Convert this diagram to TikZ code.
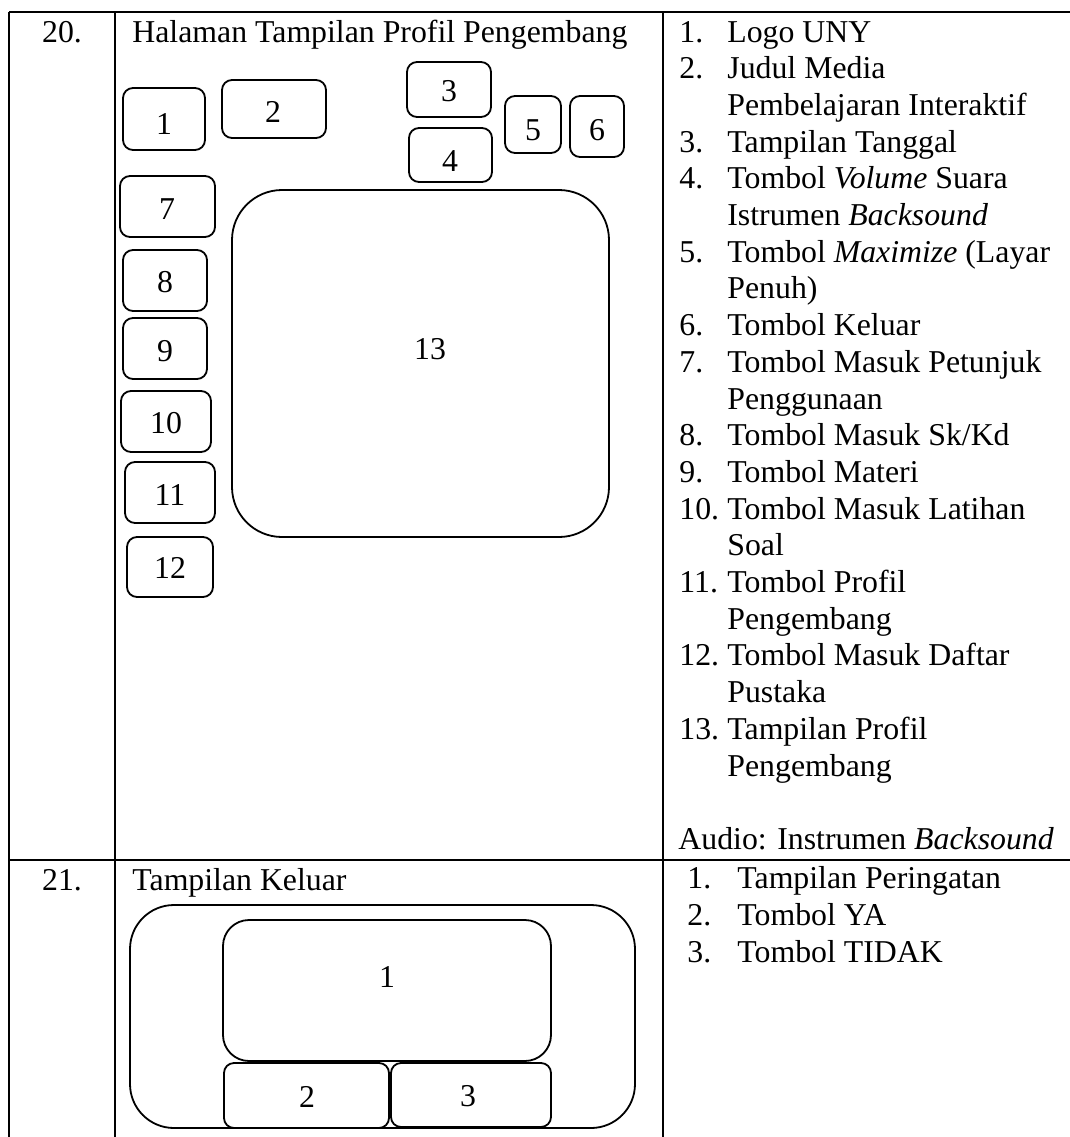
\documentclass[tikz,border=0pt]{standalone}
\usepackage{fontspec}
\setmainfont{Liberation Serif}
\tikzset{
  garis/.style={line width=0.7pt},
  kotak/.style={draw, line width=0.9pt, rounded corners=5pt},
  teks/.style={inner sep=0pt, anchor=base west},
}
\begin{document}
\begin{tikzpicture}[x=0.5pt, y=-0.5pt, font=\fontsize{15.9}{18}\selectfont]
\useasboundingbox (0,0) rectangle (1070,1137);

% garis tabel
\draw[garis] (9,12) -- (1070,12);
\draw[garis] (9,860) -- (1070,860);
\draw[garis] (9,12) -- (9,1137);
\draw[garis] (115,12) -- (115,1137);
\draw[garis] (663,12) -- (663,1137);

% baris 20
\node[teks, anchor=base] (no20) at (62,42) {20.};
\node[teks] (judul20) at (132,42) {Halaman Tampilan Profil Pengembang};

\draw[kotak] (123,88) rectangle (205,150);
\node (l1) at (164,124) {1};
\draw[kotak] (222,80) rectangle (326,138);
\node (l2) at (273,112) {2};
\draw[kotak] (407,62) rectangle (491,117);
\node (l3) at (449,91) {3};
\draw[kotak] (409,128) rectangle (492,182);
\node (l4) at (450,161) {4};
\draw[kotak] (505,96) rectangle (561,153);
\node (l5) at (533,130) {5};
\draw[kotak] (570,96) rectangle (624,157);
\node (l6) at (597,130) {6};

\draw[kotak] (120,176) rectangle (215,237);
\node (l7) at (167,209) {7};
\draw[kotak] (123,250) rectangle (207,311);
\node (l8) at (165,282) {8};
\draw[kotak] (123,318) rectangle (207,379);
\node (l9) at (165,351) {9};
\draw[kotak] (121,391) rectangle (211,452);
\node (l10) at (166,423) {10};
\draw[kotak] (125,462) rectangle (215,523);
\node (l11) at (170,495) {11};
\draw[kotak] (127,537) rectangle (213,597);
\node (l12) at (170,568) {12};

\draw[kotak, rounded corners=25pt] (232,190) rectangle (609,537);
\node (l13) at (430,349) {13};

% keterangan baris 20
\foreach \k/\no/\isi in {0/1./Logo UNY, 1/2./Judul Media, 2//Pembelajaran Interaktif,
  3/3./Tampilan Tanggal, 4/4./Tombol \textit{Volume} Suara, 5//Istrumen \textit{Backsound},
  6/5./Tombol \textit{Maximize} (Layar, 7//Penuh), 8/6./Tombol Keluar,
  9/7./Tombol Masuk Petunjuk, 10//Penggunaan, 11/8./{Tombol Masuk Sk/Kd},
  12/9./Tombol Materi, 13/10./Tombol Masuk Latihan, 14//Soal,
  15/11./Tombol Profil, 16//Pengembang, 17/12./Tombol Masuk Daftar,
  18//Pustaka, 19/13./Tampilan Profil, 20//Pengembang}
{
  \node[teks] (nr\k) at (679,{42+36.7*\k}) {\no};
  \node[teks] (isi\k) at (727,{42+36.7*\k}) {\isi};
}
\node[teks] (audio) at (678,849) {Audio: Instrumen \textit{Backsound}};

% baris 21
\node[teks, anchor=base] (no21) at (62,890) {21.};
\node[teks] (judul21) at (132,890) {Tampilan Keluar};

\draw[kotak, rounded corners=22pt] (130,905) rectangle (635,1128);
\draw[kotak, rounded corners=13pt] (223,920) rectangle (551,1061);
\node (k1) at (387,977) {1};
\draw[kotak] (224,1063) rectangle (389,1128);
\node (k2) at (307,1097) {2};
\draw[kotak] (391,1063) rectangle (551,1127);
\node (k3) at (468,1096) {3};

% keterangan baris 21
\foreach \k/\no/\isi in {0/1./Tampilan Peringatan, 1/2./Tombol YA, 2/3./Tombol TIDAK}
{
  \node[teks] (nb\k) at (687,{888+37*\k}) {\no};
  \node[teks] (ib\k) at (737,{888+37*\k}) {\isi};
}
\end{tikzpicture}
\end{document}
